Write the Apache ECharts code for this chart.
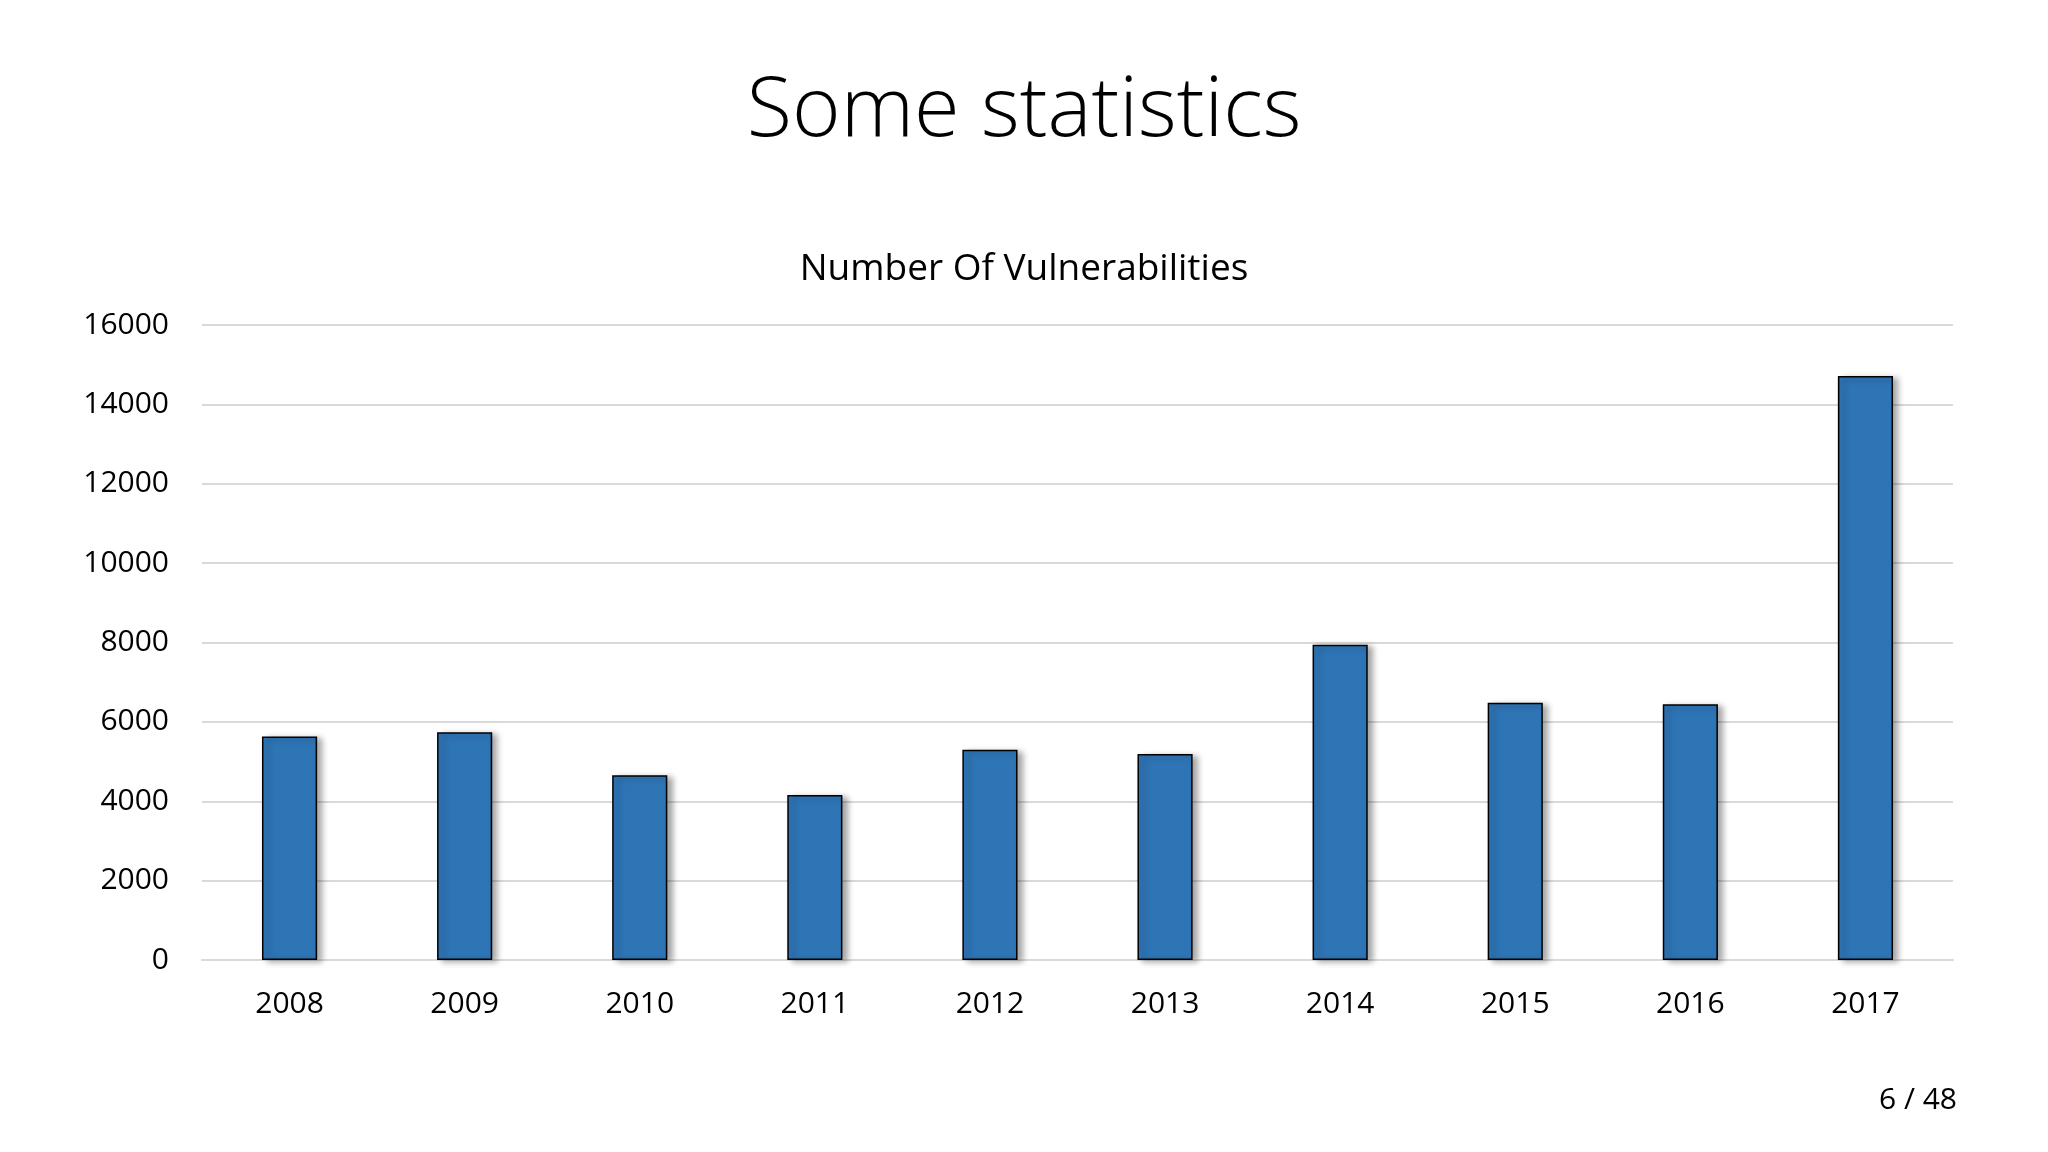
<!DOCTYPE html>
<html>
<head>
<meta charset="utf-8">
<script src="https://cdn.jsdelivr.net/npm/echarts@6/dist/echarts.min.js"></script>
<style>
html,body{margin:0;padding:0;background:#fff;}
#chart{width:2048px;height:1152px;}
</style>
</head>
<body>
<div id="chart"></div>
<script>
const pageTitle = "Some statistics";
const chartTitle = "Number Of Vulnerabilities";
const pageNumber = "6 / 48";
const years = ["2008","2009","2010","2011","2012","2013","2014","2015","2016","2017"];
const vulnerabilities = [5632, 5736, 4652, 4155, 5297, 5191, 7946, 6480, 6447, 14714];
const yTicks = [0, 2000, 4000, 6000, 8000, 10000, 12000, 14000, 16000];

const FONT = "'Open Sans', sans-serif";
const chart = echarts.init(document.getElementById('chart'), null, {renderer: 'canvas'});
chart.setOption({
  backgroundColor: '#ffffff',
  animation: false,
  graphic: [
    {type: 'text', x: 1024, y: 112, style: {text: pageTitle, fontFamily: FONT, fontWeight: 300, fontSize: 83, fill: '#000', align: 'center', verticalAlign: 'middle'}},
    {type: 'text', x: 1024, y: 269, style: {text: chartTitle, fontFamily: FONT, fontWeight: 400, fontSize: 37, fill: '#000', align: 'center', verticalAlign: 'middle'}},
    {type: 'text', x: 1957, y: 1100, style: {text: pageNumber, fontFamily: FONT, fontSize: 30, fill: '#000', align: 'right', verticalAlign: 'middle'}}
  ],
  grid: {left: 202, right: 95, top: 325, bottom: 192, containLabel: false},
  xAxis: {
    type: 'category',
    data: years,
    axisLine: {show: true, lineStyle: {color: '#d9d9d9', width: 2}},
    axisTick: {show: false},
    axisLabel: {fontFamily: FONT, fontSize: 30, color: '#000', margin: 29}
  },
  yAxis: {
    type: 'value',
    min: yTicks[0],
    max: yTicks[yTicks.length - 1],
    interval: yTicks[1] - yTicks[0],
    axisLine: {show: false},
    axisTick: {show: false},
    axisLabel: {fontFamily: FONT, fontSize: 30, color: '#000', margin: 33, formatter: v => String(v)},
    splitLine: {lineStyle: {color: '#d9d9d9', width: 2}}
  },
  series: [{
    type: 'bar',
    data: vulnerabilities,
    barWidth: '31.5%',
    itemStyle: {
      color: '#2E75B6',
      borderColor: '#000',
      borderWidth: 1.5,
      shadowColor: 'rgba(0,0,0,0.35)',
      shadowBlur: 6,
      shadowOffsetX: 5,
      shadowOffsetY: 2
    }
  }]
});
</script>
</body>
</html>
